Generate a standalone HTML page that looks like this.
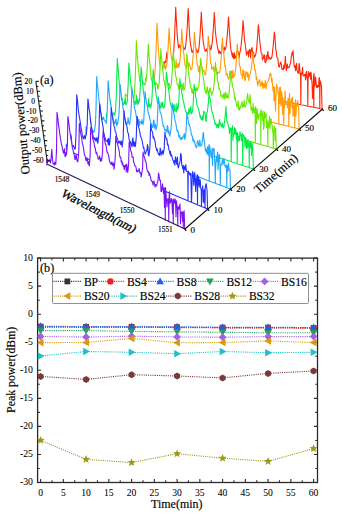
<!DOCTYPE html><html><head><meta charset="utf-8"><style>html,body{margin:0;padding:0;background:#fff;}svg{display:block;}text{font-family:"Liberation Serif", serif;fill:#000;stroke:#000;stroke-width:0.15px;}</style></head><body>
<svg width="342" height="517" viewBox="0 0 342 517">
<rect width="342" height="517" fill="#fff"/>
<path d="M164.00 77.06L164.00 61.78L164.50 61.91L165.00 62.70L165.50 60.89L166.00 62.71L166.50 54.97L167.00 52.06L167.50 60.01L168.00 61.46L168.50 63.11L169.00 62.65L169.50 62.92L170.00 63.39L170.50 63.84L171.00 63.50L171.50 63.27L172.00 63.98L172.68 61.71L173.19 58.33L173.69 52.32L174.19 43.05L174.69 33.17L175.20 21.02L175.70 7.22L176.20 17.19L176.70 26.24L177.20 34.80L177.70 40.39L178.20 44.73L178.70 48.08L179.20 45.00L179.70 45.10L180.20 47.39L180.70 46.23L181.20 50.07L181.70 46.72L182.20 49.07L182.70 44.29L183.20 49.76L183.70 47.20L184.20 49.41L185.17 49.07L185.68 45.34L186.18 40.37L186.68 34.95L187.18 27.67L187.69 18.01L188.19 8.50L188.69 17.64L189.19 28.37L189.69 36.21L190.19 41.49L190.69 45.46L191.19 47.73L191.69 51.53L192.19 52.55L192.69 50.67L193.19 50.90L193.69 48.61L194.19 50.24L194.69 52.59L195.19 42.91L195.69 48.23L196.19 51.71L196.69 49.25L197.19 51.59L197.69 52.81L198.29 51.51L198.80 49.03L199.30 44.61L199.80 38.02L200.31 30.79L200.81 21.67L201.31 12.15L201.81 22.44L202.31 28.35L202.81 37.52L203.31 42.58L203.81 45.00L204.31 48.44L204.81 49.44L205.31 51.28L205.81 50.07L206.31 51.19L206.81 48.69L207.31 50.93L207.81 52.23L208.31 48.89L208.81 47.57L209.31 46.05L209.81 45.18L210.31 49.90L211.26 48.88L211.76 45.59L212.26 42.35L212.77 36.13L213.27 29.71L213.77 21.73L214.28 12.55L214.78 20.39L215.28 30.28L215.78 34.82L216.28 39.35L216.78 42.13L217.28 45.91L217.78 48.75L218.28 50.29L218.78 53.38L219.28 50.88L219.78 52.53L220.28 53.54L220.78 51.56L221.28 53.42L221.78 49.24L222.28 44.11L222.78 49.27L223.28 48.87L223.78 52.12L224.28 47.14L224.78 49.69L225.49 49.34L225.99 46.67L226.49 42.55L227.00 38.48L227.50 32.00L228.00 25.48L228.50 16.93L229.00 23.56L229.50 32.44L230.00 39.52L230.50 46.69L231.00 50.41L231.50 51.92L232.00 55.04L232.50 57.04L233.00 52.80L233.50 58.25L234.00 58.63L234.50 52.97L235.00 58.18L235.50 57.64L236.00 55.88L236.50 57.63L237.00 51.38L237.50 58.89L238.00 51.26L238.50 52.77L239.00 58.57L239.50 53.44L240.03 52.24L240.54 50.07L241.04 45.87L241.54 41.06L242.04 35.95L242.55 28.63L243.05 20.44L243.55 26.84L244.05 33.34L244.55 40.86L245.05 42.53L245.55 47.20L246.05 50.86L246.55 55.24L247.05 52.48L247.55 53.09L248.05 50.92L248.55 56.96L249.05 51.12L249.55 49.19L250.05 50.49L250.55 57.86L251.05 52.25L251.55 48.07L252.05 47.58L252.55 52.92L253.05 56.46L253.55 51.96L254.05 55.54L254.55 57.12L255.37 55.57L255.87 53.92L256.37 50.66L256.88 45.97L257.38 39.15L257.88 32.18L258.39 24.70L258.89 29.99L259.39 36.35L259.89 42.00L260.39 45.93L260.89 51.14L261.39 53.13L261.89 53.41L262.39 59.96L262.89 58.63L263.39 58.54L263.89 54.73L264.39 55.06L264.89 61.76L265.39 62.71L265.89 61.72L266.39 55.51L266.89 59.93L267.39 54.95L267.89 51.32L268.39 56.27L268.89 59.09L269.39 57.18L269.89 57.47L270.39 59.17L271.34 58.58L271.84 57.24L272.34 54.02L272.85 48.76L273.35 44.07L273.85 38.25L274.35 31.98L274.85 35.56L275.35 43.27L275.85 50.55L276.35 51.46L276.85 57.02L277.35 57.76L277.85 58.00L278.35 63.87L278.85 66.89L279.35 67.07L279.85 64.97L280.35 62.46L280.85 62.27L281.35 64.41L281.85 69.12L282.35 69.31L282.85 68.66L283.35 69.84L283.85 65.00L284.35 68.42L284.85 63.69L285.35 56.23L285.85 63.98L286.35 70.62L286.85 67.50L287.35 64.06L287.85 67.85L288.35 67.62L289.04 67.47L289.55 66.01L290.05 64.52L290.55 63.00L291.06 58.91L291.56 55.70L292.06 52.57L292.56 54.92L293.06 50.60L293.56 58.41L294.06 65.45L294.56 67.39L295.06 65.52L295.56 70.68L296.06 67.97L296.56 63.34L297.06 70.79L297.56 71.69L298.06 73.43L298.56 72.65L299.06 63.29L299.56 65.64L300.06 74.09L300.56 73.31L300.81 104.70L301.06 73.15L301.56 74.79L302.06 73.97L302.56 67.28L303.06 75.22L303.56 75.95L304.06 75.71L304.56 74.71L305.06 74.23L305.56 79.89L306.06 73.23L306.56 71.24L307.06 77.12L307.56 79.87L307.81 106.11L308.06 80.57L308.56 71.53L309.06 76.08L309.56 73.38L310.06 72.80L310.56 79.10L311.06 72.28L311.56 78.49L312.06 83.65L312.56 98.41L313.06 96.61L313.56 75.19L313.81 107.33L314.06 73.34L314.56 86.46L315.06 83.76L315.56 76.97L316.06 83.34L316.56 87.70L317.06 85.35L317.56 87.39L318.06 85.26L318.56 86.62L319.06 77.52L319.56 79.23L319.81 108.54L320.06 80.65L320.56 81.87L321.47 86.55L322.10 109.00Z" fill="#fff" stroke="#ff2608" stroke-width="1.1" stroke-linejoin="round"/>
<path d="M145.60 91.37L145.60 77.69L146.10 79.29L146.60 81.05L147.10 80.74L147.60 81.05L148.10 77.52L148.60 69.83L149.10 70.71L149.60 78.34L150.10 80.45L150.60 79.69L151.10 78.00L151.60 80.09L152.10 82.39L152.60 81.36L153.10 80.98L153.60 79.50L154.38 78.14L154.90 71.93L155.42 63.52L155.93 52.85L156.45 39.28L156.97 23.18L157.47 32.02L157.97 41.74L158.47 50.42L158.97 56.11L159.47 61.70L159.97 65.78L160.47 67.72L160.97 65.28L161.47 69.53L161.97 70.86L162.47 70.66L162.97 68.98L163.47 66.08L163.97 65.64L164.47 67.73L164.97 64.80L165.47 69.75L165.97 67.48L166.52 65.69L167.03 61.99L167.55 56.49L168.07 48.06L168.58 38.48L169.10 27.74L169.60 36.88L170.10 44.35L170.60 49.98L171.10 55.51L171.60 59.18L172.10 61.06L172.60 65.37L173.10 61.48L173.60 68.93L174.10 63.39L174.60 68.56L175.10 66.55L175.60 67.81L176.10 59.82L176.60 66.32L177.10 68.00L177.60 65.12L178.10 63.22L178.60 67.54L179.27 65.48L179.78 62.19L180.30 56.16L180.82 49.42L181.33 39.45L181.85 29.16L182.35 38.13L182.85 44.49L183.35 50.93L183.85 54.28L184.35 59.67L184.85 64.43L185.35 65.60L185.85 66.23L186.35 69.20L186.85 63.80L187.35 66.25L187.85 64.48L188.35 68.42L188.85 62.64L189.35 64.14L189.85 65.80L190.35 68.07L190.85 69.95L191.86 68.99L192.38 64.98L192.89 58.87L193.41 52.48L193.93 43.03L194.44 32.30L194.94 39.57L195.44 45.81L195.94 50.55L196.44 55.89L196.94 62.19L197.44 65.30L197.94 66.27L198.44 71.64L198.94 71.82L199.44 65.99L199.94 73.84L200.44 71.56L200.94 74.57L201.44 72.15L201.94 73.46L202.44 67.34L202.94 70.97L203.44 70.47L203.94 70.32L204.44 72.95L204.94 74.84L205.69 74.01L206.20 69.13L206.72 64.39L207.24 56.30L207.75 47.06L208.27 36.02L208.77 40.76L209.27 46.47L209.77 51.67L210.27 59.62L210.77 63.33L211.27 64.29L211.77 69.26L212.27 67.99L212.77 68.33L213.27 66.67L213.77 71.21L214.27 70.18L214.77 69.45L215.27 66.13L215.77 74.43L216.27 68.19L216.77 70.48L217.27 74.83L217.77 73.39L218.27 71.90L218.77 72.20L219.27 72.88L219.82 71.92L220.33 67.81L220.85 62.91L221.37 55.65L221.88 48.19L222.40 37.95L222.90 46.59L223.40 51.01L223.90 55.33L224.40 60.88L224.90 66.34L225.40 65.56L225.90 72.16L226.40 75.28L226.90 73.61L227.40 73.89L227.90 78.23L228.40 78.60L228.90 79.16L229.40 76.31L229.90 71.23L230.40 72.88L230.90 73.32L231.40 71.04L231.90 74.56L232.40 78.21L232.90 69.96L233.40 77.52L233.90 76.50L234.72 75.96L235.23 72.09L235.75 67.69L236.27 61.68L236.78 52.84L237.30 44.15L237.80 50.59L238.30 55.15L238.80 55.94L239.30 63.99L239.80 66.92L240.30 66.66L240.80 73.80L241.30 74.12L241.80 74.70L242.30 78.76L242.80 70.22L243.30 75.87L243.80 70.18L244.30 75.67L244.80 80.88L245.30 79.17L245.80 71.76L246.30 73.43L246.80 72.07L247.30 77.31L247.80 72.81L248.30 76.05L248.80 80.69L249.30 74.89L250.23 73.73L250.75 71.29L251.26 68.66L251.78 64.35L252.30 59.48L252.81 52.37L253.31 54.27L253.81 63.74L254.31 64.13L254.81 70.08L255.31 69.85L255.81 73.38L256.31 79.52L256.81 76.98L257.31 83.63L257.81 85.91L258.31 81.70L258.81 82.45L259.31 80.27L259.81 79.52L260.31 86.15L260.81 85.61L261.31 82.72L261.81 85.33L262.31 80.93L262.81 88.67L263.31 83.35L263.81 84.90L264.31 87.88L264.81 84.73L265.31 80.40L265.81 86.81L266.31 88.84L266.81 83.10L267.43 82.29L267.95 81.30L268.47 80.76L268.98 78.83L269.50 76.25L270.02 73.04L270.52 75.42L271.02 73.96L271.52 81.85L272.02 78.34L272.52 84.62L273.02 91.08L273.52 86.89L274.02 100.84L274.52 87.04L275.02 98.74L275.52 110.96L276.02 94.87L276.52 84.14L277.02 86.36L277.52 87.95L278.02 91.67L278.52 96.14L278.77 123.99L279.02 95.72L279.52 87.43L280.02 103.59L280.52 87.23L281.02 105.68L281.52 91.26L282.02 94.56L282.52 114.13L283.02 97.63L283.52 106.29L283.77 125.22L284.02 105.82L284.52 107.73L285.02 90.88L285.52 101.35L286.02 104.65L286.52 103.21L287.02 103.83L287.52 107.85L288.02 98.15L288.52 103.41L288.77 126.44L289.02 104.32L289.52 93.57L290.02 113.70L290.52 102.78L291.02 100.84L291.52 98.52L292.02 107.72L292.52 97.08L293.02 115.72L293.52 105.51L294.02 116.10L294.52 103.51L294.77 127.91L295.02 105.10L295.52 99.78L296.02 115.99L296.52 104.08L297.02 106.41L297.52 100.43L298.59 107.25L299.20 129.00Z" fill="#fff" stroke="#ff9c08" stroke-width="1.1" stroke-linejoin="round"/>
<path d="M125.20 105.48L125.20 93.68L125.70 94.59L126.20 95.34L126.70 96.18L127.20 96.37L127.70 96.27L128.20 92.07L128.70 84.54L129.20 88.48L129.70 96.16L130.20 95.01L130.70 98.76L131.20 95.07L131.70 97.99L132.20 98.98L132.70 99.15L133.20 96.85L133.70 98.69L134.24 95.36L134.77 87.33L135.31 75.70L135.85 60.29L136.38 40.88L136.88 49.17L137.38 56.76L137.88 62.72L138.38 69.35L138.88 72.90L139.38 77.39L139.88 81.10L140.38 82.38L140.88 85.15L141.38 85.55L141.88 85.89L142.38 83.91L142.88 84.87L143.38 82.52L143.88 83.10L144.38 83.62L144.88 85.39L145.38 82.59L146.17 80.87L146.71 75.05L147.25 67.70L147.78 56.15L148.32 43.92L148.82 52.56L149.32 59.05L149.82 62.83L150.32 69.30L150.82 74.20L151.32 79.30L151.82 80.66L152.32 83.48L152.82 85.54L153.32 87.71L153.82 88.55L154.32 87.77L154.82 87.16L155.32 83.19L155.82 82.32L156.32 84.10L156.82 83.96L157.32 84.07L157.82 89.26L158.72 86.67L159.25 81.62L159.79 72.79L160.32 61.88L160.86 48.61L161.36 56.70L161.86 59.71L162.36 67.34L162.86 70.57L163.36 75.79L163.86 80.64L164.36 81.11L164.86 83.95L165.36 87.61L165.86 87.87L166.36 86.95L166.86 81.76L167.36 86.44L167.86 88.66L168.36 83.91L168.86 83.15L169.36 83.74L169.86 88.77L170.36 87.53L171.11 85.89L171.64 80.11L172.18 73.33L172.71 63.23L173.25 51.46L173.75 57.14L174.25 61.92L174.75 66.80L175.25 71.10L175.75 76.30L176.25 78.01L176.75 79.96L177.25 84.83L177.75 85.19L178.25 85.34L178.75 89.38L179.25 83.07L179.75 88.31L180.25 87.69L180.75 86.00L181.25 84.17L181.75 85.40L182.25 89.99L182.75 86.01L183.25 82.94L183.75 90.27L184.70 89.11L185.24 83.10L185.78 76.06L186.31 66.59L186.85 53.68L187.35 59.51L187.85 64.80L188.35 70.55L188.85 76.28L189.35 77.80L189.85 81.82L190.35 84.50L190.85 88.04L191.35 88.68L191.85 92.45L192.35 89.01L192.85 93.47L193.35 91.29L193.85 93.08L194.35 91.82L194.85 87.69L195.35 90.21L195.85 88.52L196.35 90.89L196.85 87.83L197.35 90.68L197.85 88.09L198.61 86.43L199.14 82.56L199.68 76.57L200.21 67.85L200.75 58.34L201.25 62.76L201.75 66.34L202.25 71.04L202.75 74.57L203.25 77.27L203.75 80.26L204.25 85.67L204.75 89.33L205.25 91.06L205.75 92.30L206.25 93.90L206.75 88.60L207.25 86.81L207.75 91.48L208.25 94.62L208.75 90.85L209.25 92.20L209.75 88.53L210.25 87.85L210.75 92.32L211.25 91.81L211.75 95.31L212.25 92.67L213.26 91.47L213.80 86.86L214.33 80.63L214.87 72.38L215.41 62.31L215.91 67.42L216.41 73.53L216.91 72.92L217.41 80.13L217.91 82.87L218.41 82.97L218.91 88.64L219.41 87.99L219.91 91.01L220.41 91.32L220.91 96.47L221.41 95.73L221.91 95.90L222.41 95.58L222.91 98.44L223.41 93.75L223.91 93.83L224.41 98.99L224.91 94.92L225.41 92.02L225.91 97.57L226.41 97.96L226.91 93.83L227.41 97.79L227.91 97.95L228.52 96.28L229.06 93.21L229.60 87.30L230.13 80.73L230.67 71.33L231.17 74.03L231.67 80.14L232.17 83.58L232.67 87.03L233.17 88.12L233.67 90.61L234.17 93.01L234.67 99.05L235.17 96.90L235.67 101.06L236.17 102.39L236.67 105.48L237.17 106.96L237.67 104.58L238.17 100.89L238.67 109.73L239.17 107.62L239.67 110.16L240.17 106.40L240.67 107.46L241.17 104.95L241.67 103.89L242.17 101.71L242.67 107.21L243.17 106.98L243.67 105.01L244.17 100.17L244.67 107.05L245.45 106.34L245.98 104.82L246.52 101.84L247.06 98.69L247.59 93.62L248.09 98.35L248.59 100.93L249.09 101.95L249.59 103.30L250.09 94.70L250.59 100.88L251.09 110.22L251.59 107.20L252.09 109.18L252.59 113.36L253.09 103.32L253.59 111.03L254.09 112.86L254.59 108.77L255.09 107.73L255.34 142.96L255.59 106.50L256.09 116.47L256.59 123.55L257.09 108.50L257.59 112.15L258.09 118.81L258.59 119.23L259.09 114.31L259.59 114.77L260.09 113.89L260.59 111.56L260.84 144.55L261.09 109.49L261.59 113.28L262.09 114.24L262.59 120.52L263.09 111.01L263.59 129.31L264.09 126.12L264.59 111.90L265.09 112.80L265.59 118.03L266.09 114.17L266.59 127.59L267.09 121.42L267.59 123.87L267.84 146.56L268.09 123.08L268.59 127.57L269.09 124.14L269.59 116.19L270.09 129.06L270.59 119.66L271.09 118.93L271.59 123.89L272.09 124.67L272.59 129.82L273.09 133.54L273.34 148.15L273.59 132.47L274.09 125.68L274.59 128.68L275.09 140.53L275.70 127.95L276.30 149.00Z" fill="#fff" stroke="#66e800" stroke-width="1.1" stroke-linejoin="round"/>
<path d="M106.40 120.34L106.40 114.08L106.90 114.28L107.40 113.20L107.90 112.34L108.40 112.61L108.90 112.66L109.40 113.81L109.90 106.36L110.40 99.85L110.90 107.64L111.40 115.42L111.90 114.76L112.40 114.69L112.90 114.00L113.40 114.29L113.90 112.68L114.40 115.80L114.90 114.01L115.58 109.65L116.15 98.87L116.71 80.71L117.28 58.40L117.78 65.02L118.28 70.90L118.78 77.64L119.28 82.91L119.78 87.58L120.28 92.89L120.78 96.00L121.28 98.18L121.78 101.45L122.28 98.41L122.78 104.89L123.28 104.69L123.78 103.76L124.28 101.39L124.78 104.01L125.28 98.45L125.78 104.33L126.28 104.58L127.20 101.91L127.76 92.59L128.33 79.80L128.89 63.05L129.39 68.28L129.89 73.03L130.39 80.24L130.89 84.11L131.39 88.99L131.89 91.81L132.39 93.94L132.89 97.83L133.39 98.74L133.89 101.47L134.39 102.90L134.89 101.50L135.39 104.39L135.89 101.89L136.39 95.25L136.89 103.08L137.39 104.75L137.89 99.07L138.39 103.58L139.40 101.18L139.96 92.78L140.53 82.27L141.09 66.97L141.59 71.60L142.09 77.97L142.59 82.49L143.09 88.40L143.59 93.38L144.09 95.74L144.59 99.75L145.09 102.15L145.59 103.73L146.09 107.46L146.59 108.29L147.09 105.24L147.59 106.11L148.09 106.33L148.59 98.61L149.09 107.05L149.59 105.75L150.09 104.05L150.59 107.95L151.45 104.42L152.02 97.53L152.58 85.03L153.15 69.78L153.65 76.01L154.15 79.07L154.65 84.96L155.15 86.04L155.65 91.46L156.15 95.78L156.65 97.17L157.15 100.81L157.65 103.27L158.15 103.41L158.65 104.19L159.15 105.09L159.65 109.16L160.15 107.34L160.65 107.84L161.15 102.25L161.65 105.65L162.15 106.93L162.65 102.22L163.15 106.59L163.65 107.94L164.68 105.88L165.25 97.87L165.81 86.63L166.38 72.06L166.88 75.21L167.38 79.90L167.88 84.95L168.38 88.06L168.88 91.09L169.38 95.85L169.88 100.00L170.38 103.49L170.88 104.72L171.38 107.10L171.88 107.64L172.38 105.21L172.88 106.37L173.38 104.91L173.88 112.01L174.38 110.18L174.88 104.54L175.38 110.71L175.88 110.55L176.38 112.14L176.88 103.56L177.38 109.95L178.20 107.48L178.77 101.48L179.33 90.91L179.90 78.45L180.40 84.84L180.90 87.59L181.40 89.56L181.90 94.19L182.40 95.54L182.90 99.46L183.40 101.35L183.90 103.07L184.40 106.49L184.90 107.69L185.40 110.20L185.90 111.97L186.40 111.95L186.90 113.20L187.40 113.88L187.90 112.89L188.40 114.47L188.90 108.43L189.40 111.64L189.90 113.44L190.40 108.51L190.90 106.54L191.40 113.74L192.46 111.65L193.03 106.11L193.59 96.09L194.16 84.30L194.66 87.87L195.16 90.48L195.66 96.89L196.16 98.27L196.66 102.65L197.16 105.77L197.66 106.66L198.16 107.95L198.66 109.95L199.16 111.99L199.66 113.93L200.16 117.80L200.66 115.85L201.16 119.46L201.66 117.97L202.16 120.08L202.66 115.76L203.16 120.21L203.66 111.34L204.16 112.77L204.66 111.79L205.16 113.83L205.66 120.76L206.16 121.48L206.66 113.49L207.31 111.88L207.88 107.56L208.44 101.84L209.01 92.87L209.51 98.41L210.01 98.24L210.51 100.45L211.01 105.27L211.51 109.71L212.01 112.14L212.51 112.46L213.01 115.82L213.51 115.46L214.01 119.87L214.51 120.01L215.01 124.47L215.51 122.98L216.01 123.46L216.51 126.45L217.01 127.69L217.51 124.93L218.01 124.10L218.51 127.95L219.01 125.40L219.51 119.46L220.01 124.88L220.51 123.13L221.01 124.45L221.51 126.85L222.01 125.80L222.51 123.07L223.01 128.06L223.77 126.81L224.34 123.36L224.90 118.96L225.47 112.16L225.97 106.40L226.47 116.18L226.97 122.03L227.47 121.83L227.97 123.92L228.47 126.98L228.97 127.84L229.47 133.42L229.97 127.50L230.47 130.32L230.97 129.37L231.22 161.66L231.47 128.18L231.97 129.73L232.47 125.71L232.97 140.43L233.47 133.49L233.97 134.58L234.47 127.65L234.97 134.10L235.47 128.89L235.97 131.31L236.47 139.72L236.97 132.57L237.22 163.64L237.47 132.77L237.97 134.52L238.47 141.22L238.97 136.42L239.47 140.53L239.97 131.52L240.47 135.14L240.97 134.39L241.47 141.02L241.97 134.84L242.47 133.23L242.72 165.46L242.97 134.32L243.47 136.82L243.97 135.52L244.47 137.88L244.97 146.92L245.47 137.57L245.97 138.13L246.47 148.40L246.97 141.59L247.47 147.76L247.97 139.38L248.47 146.75L248.97 143.04L249.22 167.62L249.47 143.63L249.97 141.91L250.47 147.43L250.97 141.67L251.47 155.50L251.97 143.35L252.81 148.65L253.40 169.00Z" fill="#fff" stroke="#00ec48" stroke-width="1.1" stroke-linejoin="round"/>
<path d="M86.00 134.96L86.00 126.88L86.50 129.32L87.00 129.21L87.50 126.81L88.00 129.82L88.50 128.79L89.00 131.11L89.50 127.80L90.00 120.51L90.50 118.15L91.00 125.82L91.50 129.71L92.00 128.83L92.50 131.07L93.00 131.53L93.50 132.52L94.00 130.49L94.50 131.34L95.47 123.43L96.08 105.73L96.69 76.54L97.19 82.55L97.69 86.93L98.19 92.02L98.69 96.78L99.19 102.47L99.69 104.58L100.19 108.26L100.69 112.45L101.19 114.44L101.69 117.55L102.19 119.05L102.69 119.79L103.19 117.02L103.69 118.16L104.19 119.80L104.69 120.58L105.19 120.62L105.69 121.87L106.19 123.47L106.88 118.25L107.50 103.00L108.11 80.69L108.61 85.41L109.11 91.63L109.61 96.46L110.11 100.52L110.61 103.61L111.11 107.55L111.61 111.33L112.11 114.13L112.61 116.48L113.11 119.00L113.61 120.04L114.11 122.72L114.61 123.51L115.11 123.51L115.61 119.80L116.11 119.09L116.61 125.97L117.11 122.90L117.61 124.19L118.11 120.92L118.88 115.48L119.49 103.79L120.10 84.33L120.60 88.32L121.10 92.19L121.60 99.35L122.10 100.70L122.60 104.55L123.10 108.48L123.60 110.95L124.10 113.23L124.60 118.24L125.10 118.83L125.60 121.21L126.10 122.04L126.60 124.59L127.10 123.43L127.60 123.40L128.10 117.56L128.60 122.10L129.10 122.82L129.60 124.75L130.10 120.39L130.72 116.15L131.34 105.42L131.95 87.79L132.45 92.25L132.95 95.04L133.45 98.15L133.95 103.17L134.45 107.29L134.95 109.73L135.45 110.76L135.95 114.68L136.45 117.30L136.95 117.84L137.45 120.75L137.95 119.77L138.45 124.37L138.95 119.43L139.45 125.56L139.95 122.39L140.45 121.71L140.95 121.51L141.45 123.93L141.95 119.66L142.45 122.08L142.95 124.66L143.73 120.78L144.34 109.43L144.96 91.67L145.46 95.24L145.96 99.58L146.46 102.79L146.96 103.78L147.46 106.93L147.96 111.62L148.46 113.70L148.96 115.06L149.46 116.36L149.96 119.36L150.46 121.62L150.96 123.51L151.46 123.89L151.96 127.58L152.46 126.18L152.96 127.08L153.46 119.96L153.96 120.16L154.46 128.29L154.96 124.85L155.46 124.40L155.96 129.84L157.02 125.81L157.64 114.41L158.25 97.16L158.75 100.04L159.25 103.33L159.75 109.39L160.25 112.55L160.75 112.26L161.25 115.25L161.75 116.84L162.25 121.39L162.75 122.68L163.25 126.49L163.75 125.50L164.25 128.32L164.75 130.23L165.25 129.94L165.75 129.55L166.25 131.93L166.75 131.72L167.25 125.72L167.75 126.26L168.25 133.49L168.75 130.51L169.25 133.04L169.75 136.13L170.25 133.89L171.04 129.43L171.65 119.55L172.27 103.12L172.77 107.03L173.27 109.73L173.77 112.55L174.27 115.40L174.77 119.57L175.27 121.67L175.77 122.45L176.27 126.53L176.77 129.13L177.27 131.65L177.77 130.07L178.27 132.76L178.77 136.90L179.27 135.94L179.77 135.32L180.27 139.06L180.77 137.94L181.27 139.80L181.77 137.71L182.27 137.14L182.77 138.67L183.27 136.01L183.77 135.77L184.27 133.54L184.77 139.38L185.63 135.97L186.25 126.92L186.86 112.71L187.36 117.63L187.86 116.96L188.36 122.80L188.86 124.91L189.36 124.30L189.86 126.16L190.36 129.47L190.86 130.48L191.36 135.21L191.86 135.31L192.36 136.59L192.86 140.77L193.36 139.10L193.86 142.20L194.36 140.69L194.86 142.39L195.36 145.97L195.86 146.80L196.36 147.87L196.86 146.39L197.36 141.49L197.86 140.49L198.36 143.18L198.86 146.43L199.36 145.38L199.86 140.00L200.36 144.68L200.86 146.22L201.82 144.87L202.43 140.68L203.05 133.22L203.55 132.70L204.05 141.25L204.55 141.15L205.05 148.01L205.55 151.04L206.05 148.92L206.55 152.83L207.05 153.53L207.55 146.73L208.05 155.19L208.55 149.37L209.05 144.47L209.30 181.07L209.55 145.56L210.05 147.98L210.55 151.28L211.05 156.60L211.55 157.94L212.05 148.61L212.55 165.46L213.05 149.52L213.55 148.21L214.05 148.82L214.55 157.28L215.05 170.55L215.30 183.31L215.55 171.24L216.05 159.78L216.55 156.03L217.05 161.46L217.55 151.99L218.05 169.76L218.55 160.72L219.05 154.05L219.55 155.98L220.05 168.18L220.30 185.18L220.55 167.25L221.05 164.63L221.55 164.29L222.05 161.94L222.55 158.99L223.05 164.71L223.55 160.30L224.05 158.55L224.55 163.09L225.05 166.29L225.55 167.26L226.05 164.76L226.55 168.37L226.80 187.61L227.05 169.14L227.55 164.97L228.05 171.48L228.55 163.04L229.05 169.06L229.92 169.34L230.50 189.00Z" fill="#fff" stroke="#20a8fa" stroke-width="1.1" stroke-linejoin="round"/>
<path d="M66.30 150.08L66.30 144.89L66.80 145.19L67.30 143.34L67.80 146.28L68.30 146.34L68.80 146.38L69.30 147.13L69.80 146.66L70.30 141.64L70.80 134.49L71.30 137.26L71.80 144.83L72.30 146.97L72.80 146.21L73.30 145.45L73.80 146.44L74.30 147.69L74.80 149.27L75.30 148.45L76.05 132.71L76.76 94.76L77.26 98.50L77.76 103.36L78.26 109.29L78.76 113.23L79.26 116.26L79.76 119.10L80.26 122.40L80.76 125.59L81.26 129.25L81.76 131.08L82.26 135.15L82.76 136.74L83.26 138.38L83.76 138.81L84.26 135.68L84.76 135.97L85.26 138.86L85.76 135.53L86.26 134.99L87.21 124.31L87.92 98.94L88.42 102.45L88.92 108.46L89.42 110.56L89.92 114.56L90.42 120.26L90.92 123.91L91.42 126.81L91.92 129.93L92.42 132.68L92.92 134.81L93.42 137.87L93.92 138.22L94.42 139.79L94.92 137.70L95.42 139.49L95.92 141.07L96.42 140.13L96.92 137.38L97.42 142.31L97.92 143.13L98.94 132.20L99.65 103.70L100.15 106.83L100.65 111.99L101.15 115.39L101.65 119.42L102.15 121.88L102.65 124.90L103.15 127.37L103.65 132.76L104.15 134.26L104.65 137.20L105.15 137.58L105.65 140.11L106.15 141.27L106.65 140.96L107.15 141.41L107.65 139.29L108.15 144.39L108.65 138.38L109.15 145.33L109.65 144.18L110.52 134.25L111.23 107.83L111.73 111.72L112.23 114.72L112.73 118.52L113.23 121.93L113.73 124.06L114.23 126.97L114.73 127.79L115.23 131.76L115.73 131.93L116.23 134.16L116.73 137.33L117.23 137.94L117.73 139.70L118.23 140.96L118.73 143.07L119.23 142.74L119.73 141.30L120.23 142.75L120.73 144.61L121.23 140.91L121.73 143.39L122.23 146.85L123.24 137.01L123.95 110.92L124.45 114.99L124.95 118.88L125.45 121.25L125.95 124.43L126.45 124.72L126.95 126.57L127.45 130.69L127.95 133.04L128.45 133.77L128.95 138.67L129.45 140.72L129.95 143.00L130.45 141.44L130.95 144.75L131.45 143.91L131.95 146.86L132.45 139.88L132.95 137.89L133.45 145.95L133.95 141.86L134.45 146.27L134.95 142.27L135.45 146.34L136.24 137.69L136.95 116.27L137.45 117.65L137.95 124.02L138.45 126.59L138.95 128.09L139.45 130.40L139.95 132.42L140.45 136.28L140.95 137.05L141.45 138.56L141.95 139.98L142.45 142.97L142.95 145.29L143.45 148.20L143.95 147.62L144.45 152.13L144.95 153.30L145.45 154.00L145.95 152.09L146.45 150.12L146.95 150.64L147.45 144.49L147.95 146.54L148.45 155.13L148.95 155.97L149.95 146.63L150.66 124.14L151.16 128.06L151.66 130.51L152.16 131.22L152.66 133.19L153.16 138.17L153.66 136.56L154.16 138.87L154.66 139.87L155.16 141.97L155.66 147.14L156.16 147.61L156.66 150.67L157.16 148.90L157.66 151.40L158.16 153.75L158.66 154.51L159.16 153.54L159.66 155.58L160.16 148.02L160.66 150.02L161.16 155.13L161.66 152.04L162.16 153.23L162.66 150.54L163.16 154.44L164.22 148.38L164.93 131.97L165.43 136.36L165.93 137.22L166.43 139.59L166.93 138.96L167.43 144.90L167.93 143.89L168.43 146.40L168.93 149.92L169.43 150.72L169.93 154.28L170.43 151.29L170.93 156.12L171.43 154.59L171.93 156.34L172.43 158.59L172.93 160.47L173.43 160.92L173.93 163.29L174.43 160.51L174.93 165.32L175.43 156.82L175.93 158.32L176.43 162.64L176.93 164.50L177.43 157.00L177.93 166.81L178.43 167.81L178.93 165.21L180.04 161.67L180.75 153.39L181.25 155.73L181.75 165.14L182.25 166.07L182.75 168.97L183.25 165.37L183.75 173.00L184.25 166.19L184.75 167.25L185.25 170.02L185.75 164.49L186.25 170.49L186.75 171.44L187.25 171.53L187.75 171.83L188.00 200.83L188.25 170.97L188.75 172.85L189.25 172.49L189.75 175.02L190.25 174.85L190.75 173.38L191.25 192.87L191.50 202.29L191.75 194.77L192.25 175.03L192.75 171.47L193.25 175.22L193.75 185.32L194.25 176.32L194.75 172.44L195.25 183.22L195.75 191.57L196.25 177.76L196.75 185.11L197.25 174.89L197.50 204.79L197.75 175.01L198.25 185.04L198.75 176.72L199.25 187.19L199.75 179.69L200.25 179.97L200.75 188.63L201.25 190.12L201.50 206.46L201.75 190.10L202.25 188.42L202.75 185.94L203.25 202.07L203.75 190.27L204.25 202.70L204.75 188.73L205.00 207.92L205.25 187.38L205.75 184.82L206.25 183.75L207.03 190.04L207.60 209.00Z" fill="#fff" stroke="#2430fb" stroke-width="1.1" stroke-linejoin="round"/>
<path d="M46.80 165.57L46.80 159.07L47.30 159.68L47.80 161.97L48.30 161.29L48.80 161.10L49.30 161.09L49.80 159.72L50.30 163.01L50.80 161.29L51.30 155.37L51.80 149.38L52.30 156.86L52.80 162.23L53.30 164.04L53.80 163.44L54.30 165.17L54.80 162.04L55.30 164.02L55.80 164.34L56.50 149.67L57.00 112.33L57.50 115.51L58.00 119.38L58.50 124.80L59.00 127.43L59.50 132.13L60.00 135.41L60.50 138.77L61.00 141.39L61.50 144.86L62.00 145.89L62.50 149.50L63.00 150.80L63.50 153.28L64.00 150.86L64.50 148.80L65.00 156.39L65.50 156.37L66.00 152.24L66.50 154.97L67.40 144.68L67.90 116.57L68.40 119.57L68.90 123.97L69.40 127.96L69.90 131.94L70.40 135.33L70.90 138.76L71.40 140.78L71.90 144.48L72.40 148.00L72.90 149.08L73.40 151.87L73.90 153.92L74.40 155.87L74.90 159.41L75.40 159.43L75.90 154.97L76.40 155.79L76.90 160.01L77.40 161.53L77.90 161.72L78.84 150.51L79.34 123.34L79.84 127.52L80.34 131.10L80.84 134.03L81.34 136.12L81.84 139.46L82.34 143.77L82.84 144.86L83.34 147.10L83.84 150.61L84.34 154.22L84.84 155.54L85.34 156.95L85.84 160.26L86.34 160.78L86.84 157.67L87.34 158.56L87.84 163.75L88.34 161.26L88.84 164.67L89.34 166.05L90.15 154.65L90.65 127.67L91.15 129.60L91.65 131.13L92.15 134.51L92.65 138.53L93.15 140.17L93.65 140.93L94.15 143.31L94.65 147.29L95.15 147.27L95.65 150.74L96.15 153.61L96.65 152.25L97.15 154.98L97.65 155.90L98.15 159.20L98.65 159.02L99.15 158.59L99.65 155.95L100.15 160.13L100.65 161.52L101.15 158.37L101.65 160.46L102.56 152.09L103.06 130.98L103.56 132.49L104.06 136.58L104.56 139.34L105.06 142.76L105.56 144.99L106.06 145.10L106.56 149.52L107.06 152.41L107.56 152.02L108.06 153.78L108.56 155.51L109.06 157.70L109.56 161.70L110.06 162.01L110.56 163.59L111.06 164.61L111.56 162.51L112.06 161.94L112.56 165.55L113.06 165.38L113.56 163.07L114.06 169.32L114.56 165.31L115.25 156.92L115.75 136.22L116.25 138.94L116.75 142.49L117.25 141.98L117.75 144.78L118.25 147.20L118.75 148.99L119.25 151.05L119.75 156.32L120.25 157.41L120.75 157.18L121.25 162.10L121.75 160.74L122.25 164.57L122.75 162.93L123.25 166.38L123.75 165.66L124.25 169.72L124.75 165.67L125.25 166.71L125.75 164.68L126.25 171.96L126.75 164.03L127.25 168.77L127.75 172.35L128.63 163.97L129.13 142.35L129.63 143.86L130.13 145.94L130.63 150.93L131.13 151.34L131.63 153.18L132.13 157.36L132.63 157.10L133.13 156.94L133.63 162.34L134.13 163.01L134.63 165.46L135.13 165.65L135.63 166.21L136.13 167.88L136.63 171.80L137.13 170.25L137.63 171.77L138.13 171.37L138.63 169.85L139.13 168.60L139.63 172.06L140.13 173.20L140.63 172.70L141.13 176.93L141.63 174.48L142.55 168.21L143.05 152.33L143.55 153.67L144.05 156.11L144.55 157.74L145.05 159.75L145.55 161.68L146.05 161.81L146.55 166.08L147.05 169.86L147.55 170.97L148.05 172.44L148.55 171.60L149.05 175.33L149.55 173.39L150.05 175.92L150.55 177.07L151.05 180.20L151.55 180.81L152.05 181.73L152.55 181.60L153.05 185.23L153.55 182.75L154.05 181.02L154.55 184.24L155.05 187.24L155.55 184.60L156.05 184.85L156.55 186.05L157.05 183.95L158.00 180.61L158.50 173.16L159.00 174.77L159.50 178.75L160.00 180.84L160.50 180.32L161.00 191.38L161.50 191.50L162.00 187.74L162.50 183.83L163.00 189.40L163.50 193.43L164.00 187.69L164.50 207.63L165.00 188.04L165.25 220.05L165.50 187.55L166.00 193.62L166.50 200.89L167.00 207.00L167.50 199.01L168.00 198.99L168.50 199.30L168.75 221.66L169.00 198.60L169.50 191.52L170.00 203.31L170.50 202.43L171.00 199.73L171.50 198.50L172.00 203.40L172.50 213.62L173.00 199.56L173.25 223.73L173.50 199.00L174.00 203.83L174.50 202.01L175.00 198.86L175.50 201.15L176.00 216.67L176.50 200.89L177.00 206.20L177.50 208.62L177.75 225.80L178.00 208.23L178.50 206.79L179.00 209.10L179.50 206.28L180.00 203.96L180.50 223.75L181.00 212.32L181.50 212.28L182.00 211.57L182.50 221.11L183.00 212.46L183.25 228.33L183.50 212.98L184.15 210.75L184.70 229.00Z" fill="#fff" stroke="none"/><path d="M46.80 165.57L46.80 159.07L47.30 159.68L47.80 161.97L48.30 161.29L48.80 161.10L49.30 161.09L49.80 159.72L50.30 163.01L50.80 161.29L51.30 155.37L51.80 149.38L52.30 156.86L52.80 162.23L53.30 164.04L53.80 163.44L54.30 165.17L54.80 162.04L55.30 164.02L55.80 164.34L56.50 149.67L57.00 112.33L57.50 115.51L58.00 119.38L58.50 124.80L59.00 127.43L59.50 132.13L60.00 135.41L60.50 138.77L61.00 141.39L61.50 144.86L62.00 145.89L62.50 149.50L63.00 150.80L63.50 153.28L64.00 150.86L64.50 148.80L65.00 156.39L65.50 156.37L66.00 152.24L66.50 154.97L67.40 144.68L67.90 116.57L68.40 119.57L68.90 123.97L69.40 127.96L69.90 131.94L70.40 135.33L70.90 138.76L71.40 140.78L71.90 144.48L72.40 148.00L72.90 149.08L73.40 151.87L73.90 153.92L74.40 155.87L74.90 159.41L75.40 159.43L75.90 154.97L76.40 155.79L76.90 160.01L77.40 161.53L77.90 161.72L78.84 150.51L79.34 123.34L79.84 127.52L80.34 131.10L80.84 134.03L81.34 136.12L81.84 139.46L82.34 143.77L82.84 144.86L83.34 147.10L83.84 150.61L84.34 154.22L84.84 155.54L85.34 156.95L85.84 160.26L86.34 160.78L86.84 157.67L87.34 158.56L87.84 163.75L88.34 161.26L88.84 164.67L89.34 166.05L90.15 154.65L90.65 127.67L91.15 129.60L91.65 131.13L92.15 134.51L92.65 138.53L93.15 140.17L93.65 140.93L94.15 143.31L94.65 147.29L95.15 147.27L95.65 150.74L96.15 153.61L96.65 152.25L97.15 154.98L97.65 155.90L98.15 159.20L98.65 159.02L99.15 158.59L99.65 155.95L100.15 160.13L100.65 161.52L101.15 158.37L101.65 160.46L102.56 152.09L103.06 130.98L103.56 132.49L104.06 136.58L104.56 139.34L105.06 142.76L105.56 144.99L106.06 145.10L106.56 149.52L107.06 152.41L107.56 152.02L108.06 153.78L108.56 155.51L109.06 157.70L109.56 161.70L110.06 162.01L110.56 163.59L111.06 164.61L111.56 162.51L112.06 161.94L112.56 165.55L113.06 165.38L113.56 163.07L114.06 169.32L114.56 165.31L115.25 156.92L115.75 136.22L116.25 138.94L116.75 142.49L117.25 141.98L117.75 144.78L118.25 147.20L118.75 148.99L119.25 151.05L119.75 156.32L120.25 157.41L120.75 157.18L121.25 162.10L121.75 160.74L122.25 164.57L122.75 162.93L123.25 166.38L123.75 165.66L124.25 169.72L124.75 165.67L125.25 166.71L125.75 164.68L126.25 171.96L126.75 164.03L127.25 168.77L127.75 172.35L128.63 163.97L129.13 142.35L129.63 143.86L130.13 145.94L130.63 150.93L131.13 151.34L131.63 153.18L132.13 157.36L132.63 157.10L133.13 156.94L133.63 162.34L134.13 163.01L134.63 165.46L135.13 165.65L135.63 166.21L136.13 167.88L136.63 171.80L137.13 170.25L137.63 171.77L138.13 171.37L138.63 169.85L139.13 168.60L139.63 172.06L140.13 173.20L140.63 172.70L141.13 176.93L141.63 174.48L142.55 168.21L143.05 152.33L143.55 153.67L144.05 156.11L144.55 157.74L145.05 159.75L145.55 161.68L146.05 161.81L146.55 166.08L147.05 169.86L147.55 170.97L148.05 172.44L148.55 171.60L149.05 175.33L149.55 173.39L150.05 175.92L150.55 177.07L151.05 180.20L151.55 180.81L152.05 181.73L152.55 181.60L153.05 185.23L153.55 182.75L154.05 181.02L154.55 184.24L155.05 187.24L155.55 184.60L156.05 184.85L156.55 186.05L157.05 183.95L158.00 180.61L158.50 173.16L159.00 174.77L159.50 178.75L160.00 180.84L160.50 180.32L161.00 191.38L161.50 191.50L162.00 187.74L162.50 183.83L163.00 189.40L163.50 193.43L164.00 187.69L164.50 207.63L165.00 188.04L165.25 220.05L165.50 187.55L166.00 193.62L166.50 200.89L167.00 207.00L167.50 199.01L168.00 198.99L168.50 199.30L168.75 221.66L169.00 198.60L169.50 191.52L170.00 203.31L170.50 202.43L171.00 199.73L171.50 198.50L172.00 203.40L172.50 213.62L173.00 199.56L173.25 223.73L173.50 199.00L174.00 203.83L174.50 202.01L175.00 198.86L175.50 201.15L176.00 216.67L176.50 200.89L177.00 206.20L177.50 208.62L177.75 225.80L178.00 208.23L178.50 206.79L179.00 209.10L179.50 206.28L180.00 203.96L180.50 223.75L181.00 212.32L181.50 212.28L182.00 211.57L182.50 221.11L183.00 212.46L183.25 228.33L183.50 212.98L184.15 210.75L184.70 229.00" fill="none" stroke="#7a14f4" stroke-width="1.1" stroke-linejoin="round"/>
<path d="M35.8 81.4L47.5 163.3M35.80 81.40h3M36.51 86.34h1.8M37.21 91.28h3M37.92 96.22h1.8M38.62 101.15h3M39.33 106.09h1.8M40.03 111.03h3M40.74 115.97h1.8M41.44 120.90h3M42.15 125.84h1.8M42.85 130.78h3M43.56 135.72h1.8M44.26 140.65h3M44.97 145.59h1.8M45.67 150.53h3M46.38 155.47h1.8M47.09 160.40h3" stroke="#222" stroke-width="1.1" fill="none"/>
<text x="32.20" y="83.90" font-size="7.6" text-anchor="end">20</text>
<text x="33.61" y="93.78" font-size="7.6" text-anchor="end">10</text>
<text x="35.02" y="103.65" font-size="7.6" text-anchor="end">0</text>
<text x="36.43" y="113.53" font-size="7.6" text-anchor="end">-10</text>
<text x="37.84" y="123.40" font-size="7.6" text-anchor="end">-20</text>
<text x="39.25" y="133.28" font-size="7.6" text-anchor="end">-30</text>
<text x="40.66" y="143.15" font-size="7.6" text-anchor="end">-40</text>
<text x="42.07" y="153.03" font-size="7.6" text-anchor="end">-50</text>
<text x="43.49" y="162.90" font-size="7.6" text-anchor="end">-60</text>
<text transform="translate(25.2 123) rotate(-95.2)" font-size="12.6" text-anchor="middle">Output power(dBm)</text>
<text x="40" y="83.8" font-size="12.3">(a)</text>
<path d="M47.2 164.2L185.5 229.3" stroke="#2a1a5a" stroke-width="1.2"/>
<text x="62" y="182.3" font-size="7.3" text-anchor="middle">1548</text>
<text x="92.5" y="197.3" font-size="7.3" text-anchor="middle">1549</text>
<text x="127" y="213.3" font-size="7.3" text-anchor="middle">1550</text>
<text x="165.4" y="231.5" font-size="7.3" text-anchor="middle">1551</text>
<text transform="translate(96.6 214.3) rotate(27) skewX(-10)" font-size="12.3" text-anchor="middle" style="stroke-width:0.3px">Wavelength(nm)</text>
<path d="M184.7 229.3L322.5 109M184.70 229.00l1.6 1.8M207.60 209.00l1.6 1.8M230.50 189.00l1.6 1.8M253.40 169.00l1.6 1.8M276.30 149.00l1.6 1.8M299.20 129.00l1.6 1.8M322.10 109.00l1.6 1.8" stroke="#111" stroke-width="1.2" fill="none"/>
<text x="190.50" y="233.00" font-size="9">0</text>
<text x="213.40" y="212.65" font-size="9">10</text>
<text x="236.30" y="192.30" font-size="9">20</text>
<text x="259.20" y="171.95" font-size="9">30</text>
<text x="282.10" y="151.60" font-size="9">40</text>
<text x="305.00" y="131.25" font-size="9">50</text>
<text x="327.90" y="110.90" font-size="9">60</text>
<text transform="translate(278.6 176.6) rotate(-41)" font-size="12.4" text-anchor="middle">Time(min)</text>
<rect x="37.6" y="258.1" width="279.9" height="224.39999999999998" fill="none" stroke="#2a2a2a" stroke-width="1.3"/>
<path d="M40.60 482.5v-3.5M40.60 258.1v3.5M51.98 482.5v-2.2M51.98 258.1v2.2M63.35 482.5v-3.5M63.35 258.1v3.5M74.72 482.5v-2.2M74.72 258.1v2.2M86.10 482.5v-3.5M86.10 258.1v3.5M97.47 482.5v-2.2M97.47 258.1v2.2M108.85 482.5v-3.5M108.85 258.1v3.5M120.22 482.5v-2.2M120.22 258.1v2.2M131.60 482.5v-3.5M131.60 258.1v3.5M142.97 482.5v-2.2M142.97 258.1v2.2M154.35 482.5v-3.5M154.35 258.1v3.5M165.72 482.5v-2.2M165.72 258.1v2.2M177.10 482.5v-3.5M177.10 258.1v3.5M188.47 482.5v-2.2M188.47 258.1v2.2M199.85 482.5v-3.5M199.85 258.1v3.5M211.22 482.5v-2.2M211.22 258.1v2.2M222.60 482.5v-3.5M222.60 258.1v3.5M233.97 482.5v-2.2M233.97 258.1v2.2M245.35 482.5v-3.5M245.35 258.1v3.5M256.73 482.5v-2.2M256.73 258.1v2.2M268.10 482.5v-3.5M268.10 258.1v3.5M279.48 482.5v-2.2M279.48 258.1v2.2M290.85 482.5v-3.5M290.85 258.1v3.5M302.23 482.5v-2.2M302.23 258.1v2.2M313.60 482.5v-3.5M313.60 258.1v3.5M37.6 258.10h3.5M317.5 258.10h-3.5M37.6 272.12h2.2M317.5 272.12h-2.2M37.6 286.15h3.5M317.5 286.15h-3.5M37.6 300.18h2.2M317.5 300.18h-2.2M37.6 314.20h3.5M317.5 314.20h-3.5M37.6 328.23h2.2M317.5 328.23h-2.2M37.6 342.25h3.5M317.5 342.25h-3.5M37.6 356.27h2.2M317.5 356.27h-2.2M37.6 370.30h3.5M317.5 370.30h-3.5M37.6 384.32h2.2M317.5 384.32h-2.2M37.6 398.35h3.5M317.5 398.35h-3.5M37.6 412.38h2.2M317.5 412.38h-2.2M37.6 426.40h3.5M317.5 426.40h-3.5M37.6 440.43h2.2M317.5 440.43h-2.2M37.6 454.45h3.5M317.5 454.45h-3.5M37.6 468.48h2.2M317.5 468.48h-2.2M37.6 482.50h3.5M317.5 482.50h-3.5" stroke="#2a2a2a" stroke-width="1.1" fill="none"/>
<text x="40.60" y="496" font-size="9.6" text-anchor="middle" style="stroke-width:0.05px">0</text>
<text x="63.35" y="496" font-size="9.6" text-anchor="middle" style="stroke-width:0.05px">5</text>
<text x="86.10" y="496" font-size="9.6" text-anchor="middle" style="stroke-width:0.05px">10</text>
<text x="108.85" y="496" font-size="9.6" text-anchor="middle" style="stroke-width:0.05px">15</text>
<text x="131.60" y="496" font-size="9.6" text-anchor="middle" style="stroke-width:0.05px">20</text>
<text x="154.35" y="496" font-size="9.6" text-anchor="middle" style="stroke-width:0.05px">25</text>
<text x="177.10" y="496" font-size="9.6" text-anchor="middle" style="stroke-width:0.05px">30</text>
<text x="199.85" y="496" font-size="9.6" text-anchor="middle" style="stroke-width:0.05px">35</text>
<text x="222.60" y="496" font-size="9.6" text-anchor="middle" style="stroke-width:0.05px">40</text>
<text x="245.35" y="496" font-size="9.6" text-anchor="middle" style="stroke-width:0.05px">45</text>
<text x="268.10" y="496" font-size="9.6" text-anchor="middle" style="stroke-width:0.05px">50</text>
<text x="290.85" y="496" font-size="9.6" text-anchor="middle" style="stroke-width:0.05px">55</text>
<text x="313.60" y="496" font-size="9.6" text-anchor="middle" style="stroke-width:0.05px">60</text>
<text x="33" y="260.60" font-size="9.8" text-anchor="end" style="stroke-width:0.05px">10</text>
<text x="33" y="288.65" font-size="9.8" text-anchor="end" style="stroke-width:0.05px">5</text>
<text x="33" y="316.70" font-size="9.8" text-anchor="end" style="stroke-width:0.05px">0</text>
<text x="33" y="344.75" font-size="9.8" text-anchor="end" style="stroke-width:0.05px">-5</text>
<text x="33" y="372.80" font-size="9.8" text-anchor="end" style="stroke-width:0.05px">-10</text>
<text x="33" y="400.85" font-size="9.8" text-anchor="end" style="stroke-width:0.05px">-15</text>
<text x="33" y="428.90" font-size="9.8" text-anchor="end" style="stroke-width:0.05px">-20</text>
<text x="33" y="456.95" font-size="9.8" text-anchor="end" style="stroke-width:0.05px">-25</text>
<text x="33" y="485.00" font-size="9.8" text-anchor="end" style="stroke-width:0.05px">-30</text>
<text x="176.8" y="508.2" font-size="12" text-anchor="middle">Time(min)</text>
<text transform="translate(14.6 369.8) rotate(-90)" font-size="11.8" text-anchor="middle">Peak power(dBm)</text>
<text x="40" y="272.2" font-size="12.2">(b)</text>
<clipPath id="pc"><rect x="37.6" y="258.1" width="279.9" height="224.39999999999998"/></clipPath>
<g clip-path="url(#pc)">
<path d="M40.60 326.60L86.10 326.90L131.60 326.90L177.10 327.20L222.60 327.60L268.10 327.60L313.60 328.00" fill="none" stroke="#353535" stroke-width="1.1" stroke-dasharray="1.1 1.1"/>
<path d="M40.60 327.20L86.10 327.40L131.60 327.40L177.10 327.60L222.60 327.90L268.10 327.90L313.60 328.20" fill="none" stroke="#ee2222" stroke-width="1.1" stroke-dasharray="1.1 1.1"/>
<path d="M40.60 326.30L86.10 326.50L131.60 326.50L177.10 326.80L222.60 327.20L268.10 327.20L313.60 327.60" fill="none" stroke="#1f5fe8" stroke-width="1.1" stroke-dasharray="1.1 1.1"/>
<path d="M40.60 330.60L86.10 330.60L131.60 331.40L177.10 331.80L222.60 332.30L268.10 332.80L313.60 332.80" fill="none" stroke="#22a05c" stroke-width="1.1" stroke-dasharray="1.1 1.1"/>
<path d="M40.60 336.50L86.10 337.00L131.60 336.20L177.10 336.90L222.60 337.20L268.10 336.60L313.60 336.60" fill="none" stroke="#a462e0" stroke-width="1.1" stroke-dasharray="1.1 1.1"/>
<path d="M40.60 342.60L86.10 342.50L131.60 338.40L177.10 342.80L222.60 342.50L268.10 341.00L313.60 342.50" fill="none" stroke="#d99b0c" stroke-width="1.1" stroke-dasharray="1.1 1.1"/>
<path d="M40.60 356.00L86.10 351.50L131.60 352.30L177.10 353.70L222.60 351.50L268.10 352.70L313.60 352.30" fill="none" stroke="#1fc0c6" stroke-width="1.1" stroke-dasharray="1.1 1.1"/>
<path d="M40.60 376.40L86.10 379.40L131.60 374.70L177.10 376.00L222.60 377.90L268.10 373.40L313.60 371.00" fill="none" stroke="#7a3a3a" stroke-width="1.1" stroke-dasharray="1.1 1.1"/>
<path d="M40.60 440.30L86.10 459.40L131.60 462.50L177.10 453.70L222.60 458.20L268.10 461.40L313.60 448.50" fill="none" stroke="#9b9a12" stroke-width="1.1" stroke-dasharray="1.1 1.1"/>
<rect x="37.70" y="323.70" width="5.8" height="5.8" fill="#353535"/>
<rect x="83.20" y="324.00" width="5.8" height="5.8" fill="#353535"/>
<rect x="128.70" y="324.00" width="5.8" height="5.8" fill="#353535"/>
<rect x="174.20" y="324.30" width="5.8" height="5.8" fill="#353535"/>
<rect x="219.70" y="324.70" width="5.8" height="5.8" fill="#353535"/>
<rect x="265.20" y="324.70" width="5.8" height="5.8" fill="#353535"/>
<rect x="310.70" y="325.10" width="5.8" height="5.8" fill="#353535"/>
<circle cx="40.60" cy="327.20" r="3.2" fill="#ee2222"/>
<circle cx="86.10" cy="327.40" r="3.2" fill="#ee2222"/>
<circle cx="131.60" cy="327.40" r="3.2" fill="#ee2222"/>
<circle cx="177.10" cy="327.60" r="3.2" fill="#ee2222"/>
<circle cx="222.60" cy="327.90" r="3.2" fill="#ee2222"/>
<circle cx="268.10" cy="327.90" r="3.2" fill="#ee2222"/>
<circle cx="313.60" cy="328.20" r="3.2" fill="#ee2222"/>
<path d="M40.60 322.30L44.40 329.20L36.80 329.20Z" fill="#1f5fe8"/>
<path d="M86.10 322.50L89.90 329.40L82.30 329.40Z" fill="#1f5fe8"/>
<path d="M131.60 322.50L135.40 329.40L127.80 329.40Z" fill="#1f5fe8"/>
<path d="M177.10 322.80L180.90 329.70L173.30 329.70Z" fill="#1f5fe8"/>
<path d="M222.60 323.20L226.40 330.10L218.80 330.10Z" fill="#1f5fe8"/>
<path d="M268.10 323.20L271.90 330.10L264.30 330.10Z" fill="#1f5fe8"/>
<path d="M313.60 323.60L317.40 330.50L309.80 330.50Z" fill="#1f5fe8"/>
<path d="M40.60 334.60L44.40 327.70L36.80 327.70Z" fill="#22a05c"/>
<path d="M86.10 334.60L89.90 327.70L82.30 327.70Z" fill="#22a05c"/>
<path d="M131.60 335.40L135.40 328.50L127.80 328.50Z" fill="#22a05c"/>
<path d="M177.10 335.80L180.90 328.90L173.30 328.90Z" fill="#22a05c"/>
<path d="M222.60 336.30L226.40 329.40L218.80 329.40Z" fill="#22a05c"/>
<path d="M268.10 336.80L271.90 329.90L264.30 329.90Z" fill="#22a05c"/>
<path d="M313.60 336.80L317.40 329.90L309.80 329.90Z" fill="#22a05c"/>
<path d="M40.60 332.60L44.50 336.50L40.60 340.40L36.70 336.50Z" fill="#a462e0"/>
<path d="M86.10 333.10L90.00 337.00L86.10 340.90L82.20 337.00Z" fill="#a462e0"/>
<path d="M131.60 332.30L135.50 336.20L131.60 340.10L127.70 336.20Z" fill="#a462e0"/>
<path d="M177.10 333.00L181.00 336.90L177.10 340.80L173.20 336.90Z" fill="#a462e0"/>
<path d="M222.60 333.30L226.50 337.20L222.60 341.10L218.70 337.20Z" fill="#a462e0"/>
<path d="M268.10 332.70L272.00 336.60L268.10 340.50L264.20 336.60Z" fill="#a462e0"/>
<path d="M313.60 332.70L317.50 336.60L313.60 340.50L309.70 336.60Z" fill="#a462e0"/>
<path d="M36.60 342.60L43.50 338.80L43.50 346.40Z" fill="#d99b0c"/>
<path d="M82.10 342.50L89.00 338.70L89.00 346.30Z" fill="#d99b0c"/>
<path d="M127.60 338.40L134.50 334.60L134.50 342.20Z" fill="#d99b0c"/>
<path d="M173.10 342.80L180.00 339.00L180.00 346.60Z" fill="#d99b0c"/>
<path d="M218.60 342.50L225.50 338.70L225.50 346.30Z" fill="#d99b0c"/>
<path d="M264.10 341.00L271.00 337.20L271.00 344.80Z" fill="#d99b0c"/>
<path d="M309.60 342.50L316.50 338.70L316.50 346.30Z" fill="#d99b0c"/>
<path d="M44.60 356.00L37.70 352.20L37.70 359.80Z" fill="#1fc0c6"/>
<path d="M90.10 351.50L83.20 347.70L83.20 355.30Z" fill="#1fc0c6"/>
<path d="M135.60 352.30L128.70 348.50L128.70 356.10Z" fill="#1fc0c6"/>
<path d="M181.10 353.70L174.20 349.90L174.20 357.50Z" fill="#1fc0c6"/>
<path d="M226.60 351.50L219.70 347.70L219.70 355.30Z" fill="#1fc0c6"/>
<path d="M272.10 352.70L265.20 348.90L265.20 356.50Z" fill="#1fc0c6"/>
<path d="M317.60 352.30L310.70 348.50L310.70 356.10Z" fill="#1fc0c6"/>
<polygon points="43.63,378.15 40.60,379.90 37.57,378.15 37.57,374.65 40.60,372.90 43.63,374.65" fill="#7a3a3a"/>
<polygon points="89.13,381.15 86.10,382.90 83.07,381.15 83.07,377.65 86.10,375.90 89.13,377.65" fill="#7a3a3a"/>
<polygon points="134.63,376.45 131.60,378.20 128.57,376.45 128.57,372.95 131.60,371.20 134.63,372.95" fill="#7a3a3a"/>
<polygon points="180.13,377.75 177.10,379.50 174.07,377.75 174.07,374.25 177.10,372.50 180.13,374.25" fill="#7a3a3a"/>
<polygon points="225.63,379.65 222.60,381.40 219.57,379.65 219.57,376.15 222.60,374.40 225.63,376.15" fill="#7a3a3a"/>
<polygon points="271.13,375.15 268.10,376.90 265.07,375.15 265.07,371.65 268.10,369.90 271.13,371.65" fill="#7a3a3a"/>
<polygon points="316.63,372.75 313.60,374.50 310.57,372.75 310.57,369.25 313.60,367.50 316.63,369.25" fill="#7a3a3a"/>
<polygon points="40.60,436.00 41.72,438.76 44.69,438.97 42.41,440.89 43.13,443.78 40.60,442.20 38.07,443.78 38.79,440.89 36.51,438.97 39.48,438.76" fill="#9b9a12"/>
<polygon points="86.10,455.10 87.22,457.86 90.19,458.07 87.91,459.99 88.63,462.88 86.10,461.30 83.57,462.88 84.29,459.99 82.01,458.07 84.98,457.86" fill="#9b9a12"/>
<polygon points="131.60,458.20 132.72,460.96 135.69,461.17 133.41,463.09 134.13,465.98 131.60,464.40 129.07,465.98 129.79,463.09 127.51,461.17 130.48,460.96" fill="#9b9a12"/>
<polygon points="177.10,449.40 178.22,452.16 181.19,452.37 178.91,454.29 179.63,457.18 177.10,455.60 174.57,457.18 175.29,454.29 173.01,452.37 175.98,452.16" fill="#9b9a12"/>
<polygon points="222.60,453.90 223.72,456.66 226.69,456.87 224.41,458.79 225.13,461.68 222.60,460.10 220.07,461.68 220.79,458.79 218.51,456.87 221.48,456.66" fill="#9b9a12"/>
<polygon points="268.10,457.10 269.22,459.86 272.19,460.07 269.91,461.99 270.63,464.88 268.10,463.30 265.57,464.88 266.29,461.99 264.01,460.07 266.98,459.86" fill="#9b9a12"/>
<polygon points="313.60,444.20 314.72,446.96 317.69,447.17 315.41,449.09 316.13,451.98 313.60,450.40 311.07,451.98 311.79,449.09 309.51,447.17 312.48,446.96" fill="#9b9a12"/>
</g>
<rect x="52.5" y="273.3" width="256" height="30.2" rx="0.8" fill="#fff" stroke="#8f8f8f" stroke-width="1"/>
<path d="M53.40 281.4H81.40" stroke="#353535" stroke-width="1.1" stroke-dasharray="1.1 1.1"/>
<rect x="64.50" y="278.50" width="5.8" height="5.8" fill="#353535"/>
<text x="83.90" y="285.50" font-size="11.6">BP</text>
<path d="M96.40 281.4H124.40" stroke="#ee2222" stroke-width="1.1" stroke-dasharray="1.1 1.1"/>
<circle cx="110.40" cy="281.40" r="3.2" fill="#ee2222"/>
<text x="126.90" y="285.50" font-size="11.6">BS4</text>
<path d="M146.10 281.4H174.10" stroke="#1f5fe8" stroke-width="1.1" stroke-dasharray="1.1 1.1"/>
<path d="M160.10 277.40L163.90 284.30L156.30 284.30Z" fill="#1f5fe8"/>
<text x="176.60" y="285.50" font-size="11.6">BS8</text>
<path d="M195.90 281.4H223.90" stroke="#22a05c" stroke-width="1.1" stroke-dasharray="1.1 1.1"/>
<path d="M209.90 285.40L213.70 278.50L206.10 278.50Z" fill="#22a05c"/>
<text x="226.40" y="285.50" font-size="11.6">BS12</text>
<path d="M250.60 281.4H278.60" stroke="#a462e0" stroke-width="1.1" stroke-dasharray="1.1 1.1"/>
<path d="M264.60 277.50L268.50 281.40L264.60 285.30L260.70 281.40Z" fill="#a462e0"/>
<text x="281.10" y="285.50" font-size="11.6">BS16</text>
<path d="M53.40 296.1H81.40" stroke="#d99b0c" stroke-width="1.1" stroke-dasharray="1.1 1.1"/>
<path d="M63.40 296.10L70.30 292.30L70.30 299.90Z" fill="#d99b0c"/>
<text x="83.90" y="300.20" font-size="11.6">BS20</text>
<path d="M109.30 296.1H137.30" stroke="#1fc0c6" stroke-width="1.1" stroke-dasharray="1.1 1.1"/>
<path d="M127.30 296.10L120.40 292.30L120.40 299.90Z" fill="#1fc0c6"/>
<text x="139.80" y="300.20" font-size="11.6">BS24</text>
<path d="M163.80 296.1H191.80" stroke="#7a3a3a" stroke-width="1.1" stroke-dasharray="1.1 1.1"/>
<polygon points="180.83,297.85 177.80,299.60 174.77,297.85 174.77,294.35 177.80,292.60 180.83,294.35" fill="#7a3a3a"/>
<text x="194.30" y="300.20" font-size="11.6">BS28</text>
<path d="M218.40 296.1H246.40" stroke="#9b9a12" stroke-width="1.1" stroke-dasharray="1.1 1.1"/>
<polygon points="232.40,291.80 233.52,294.56 236.49,294.77 234.21,296.69 234.93,299.58 232.40,298.00 229.87,299.58 230.59,296.69 228.31,294.77 231.28,294.56" fill="#9b9a12"/>
<text x="248.90" y="300.20" font-size="11.6">BS32</text>
</svg></body></html>
